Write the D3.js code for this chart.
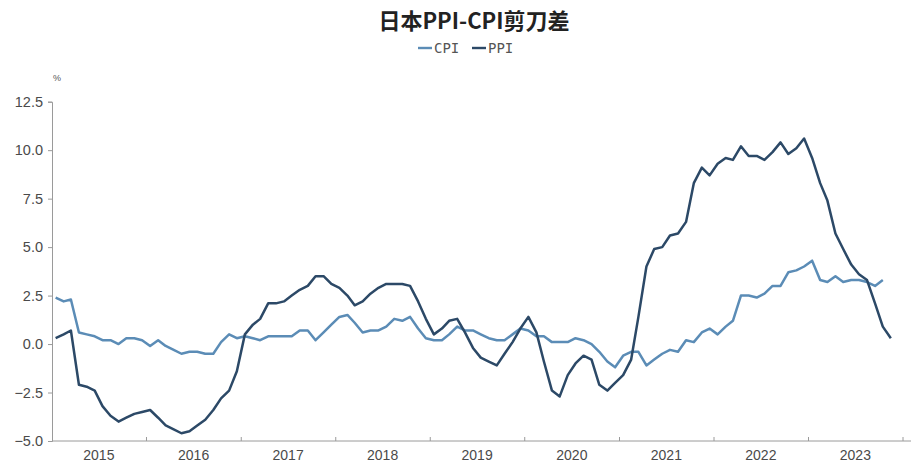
<!DOCTYPE html>
<html>
<head>
<meta charset="utf-8">
<script src="https://cdn.jsdelivr.net/npm/d3@7"></script>
<style>
  html, body { margin: 0; padding: 0; background: #fff; }
  svg { display: block; }
</style>
</head>
<body>
<svg id="chart" width="918" height="464"></svg>
<script>
// Monthly year-on-year rates (%), starting January 2015
const startYear = 2015;
const cpiValues = [
  2.4, 2.2, 2.3, 0.6, 0.5, 0.4, 0.2, 0.2, 0.0, 0.3, 0.3, 0.2,
  -0.1, 0.2, -0.1, -0.3, -0.5, -0.4, -0.4, -0.5, -0.5, 0.1, 0.5, 0.3,
  0.4, 0.3, 0.2, 0.4, 0.4, 0.4, 0.4, 0.7, 0.7, 0.2, 0.6, 1.0,
  1.4, 1.5, 1.1, 0.6, 0.7, 0.7, 0.9, 1.3, 1.2, 1.4, 0.8, 0.3,
  0.2, 0.2, 0.5, 0.9, 0.7, 0.7, 0.5, 0.3, 0.2, 0.2, 0.5, 0.8,
  0.7, 0.4, 0.4, 0.1, 0.1, 0.1, 0.3, 0.2, 0.0, -0.4, -0.9, -1.2,
  -0.6, -0.4, -0.4, -1.1, -0.8, -0.5, -0.3, -0.4, 0.2, 0.1, 0.6, 0.8,
  0.5, 0.9, 1.2, 2.5, 2.5, 2.4, 2.6, 3.0, 3.0, 3.7, 3.8, 4.0,
  4.3, 3.3, 3.2, 3.5, 3.2, 3.3, 3.3, 3.2, 3.0, 3.3
];
const ppiValues = [
  0.3, 0.5, 0.7, -2.1, -2.2, -2.4, -3.2, -3.7, -4.0, -3.8, -3.6, -3.5,
  -3.4, -3.8, -4.2, -4.4, -4.6, -4.5, -4.2, -3.9, -3.4, -2.8, -2.4, -1.4,
  0.5, 1.0, 1.3, 2.1, 2.1, 2.2, 2.5, 2.8, 3.0, 3.5, 3.5, 3.1,
  2.9, 2.5, 2.0, 2.2, 2.6, 2.9, 3.1, 3.1, 3.1, 3.0, 2.2, 1.3,
  0.5, 0.8, 1.2, 1.3, 0.6, -0.2, -0.7, -0.9, -1.1, -0.5, 0.1, 0.8,
  1.4, 0.6, -0.9, -2.4, -2.7, -1.6, -1.0, -0.6, -0.8, -2.1, -2.4, -2.0,
  -1.6, -0.8, 1.4, 4.0, 4.9, 5.0, 5.6, 5.7, 6.3, 8.3, 9.1, 8.7,
  9.3, 9.6, 9.5, 10.2, 9.7, 9.7, 9.5, 9.9, 10.4, 9.8, 10.1, 10.6,
  9.6, 8.3, 7.4, 5.7, 4.9, 4.1, 3.6, 3.3, 2.1, 0.9, 0.3
];
const yearLabels = ["2015", "2016", "2017", "2018", "2019", "2020", "2021", "2022", "2023"];
const yTicks = [-5.0, -2.5, 0.0, 2.5, 5.0, 7.5, 10.0, 12.5];
const seriesNames = ["CPI", "PPI"];
const seriesColors = ["#5b8cb6", "#2c4967"];

const monthDate = i => new Date(startYear, i, 15);
const cpi = cpiValues.map((v, i) => ({ date: monthDate(i), value: v }));
const ppi = ppiValues.map((v, i) => ({ date: monthDate(i), value: v }));

const svg = d3.select("#chart");
const plotLeft = 52, plotRight = 911, plotTop = 101.7, plotBottom = 441;

const x = d3.scaleTime()
  .domain([new Date(startYear, 0, 1), new Date(startYear + yearLabels.length, 0, 1)])
  .range([plotLeft, 903]);
const y = d3.scaleLinear().domain([-5, 12.5]).range([plotBottom, plotTop]);

const axisColor = "#9a9a9a";
const textColor = "#4a4a4a";

// Title
svg.append("text")
  .attr("x", 474).attr("y", 29)
  .attr("text-anchor", "middle")
  .attr("font-family", "'Noto Sans CJK SC', sans-serif")
  .attr("font-weight", "bold")
  .attr("font-size", 22)
  .attr("fill", "#222")
  .text("日本PPI-CPI剪刀差");

// Legend
const legend = svg.append("g").attr("transform", "translate(418,53)");
const legendOffsets = [0, 54];
seriesNames.forEach((name, i) => {
  const g = legend.append("g").attr("transform", `translate(${legendOffsets[i]},0)`);
  g.append("line")
    .attr("x1", 0).attr("x2", 14).attr("y1", -5).attr("y2", -5)
    .attr("stroke", seriesColors[i]).attr("stroke-width", 2.4);
  g.append("text")
    .attr("x", 16).attr("y", 0)
    .attr("font-family", "'DejaVu Sans Mono', monospace")
    .attr("font-size", 14)
    .attr("fill", "#555")
    .text(name);
});

// Unit label
svg.append("text")
  .attr("x", 57).attr("y", 81)
  .attr("text-anchor", "middle")
  .attr("font-family", "'Liberation Sans', sans-serif")
  .attr("font-size", 9)
  .attr("fill", "#555")
  .text("%");

// Y axis
const yAxis = d3.axisLeft(y)
  .tickValues(yTicks)
  .tickSize(4)
  .tickPadding(5)
  .tickFormat(d => d3.format(".1f")(d).replace("-", "−"));
const gy = svg.append("g").attr("transform", `translate(${plotLeft},0)`).call(yAxis);
gy.select(".domain").attr("stroke", axisColor);
gy.selectAll(".tick line").attr("stroke", axisColor);
gy.selectAll(".tick text")
  .attr("font-family", "'Liberation Sans', sans-serif")
  .attr("font-size", 14.5)
  .attr("fill", textColor);

// X axis: year boundary ticks pointing up, labels centred on each year
const yearStarts = d3.range(startYear + 1, startYear + yearLabels.length + 1).map(yr => new Date(yr, 0, 1));
const gx = svg.append("g").attr("transform", `translate(0,${plotBottom})`);
gx.append("line")
  .attr("x1", plotLeft).attr("x2", plotRight).attr("y1", 0).attr("y2", 0)
  .attr("stroke", axisColor);
gx.selectAll(".ytick").data(yearStarts).join("line")
  .attr("x1", d => x(d)).attr("x2", d => x(d))
  .attr("y1", 0).attr("y2", -4)
  .attr("stroke", axisColor);
gx.selectAll(".ylabel").data(yearLabels).join("text")
  .attr("x", (d, i) => x(new Date(startYear + i, 6, 1)))
  .attr("y", 19)
  .attr("text-anchor", "middle")
  .attr("font-family", "'Liberation Sans Narrow', 'Liberation Sans', sans-serif")
  .attr("font-size", 14)
  .attr("fill", textColor)
  .text(d => d);

// Series lines
const line = d3.line().x(d => x(d.date)).y(d => y(d.value));
[cpi, ppi].forEach((data, i) => {
  svg.append("path")
    .datum(data)
    .attr("fill", "none")
    .attr("stroke", seriesColors[i])
    .attr("stroke-width", 2.5)
    .attr("stroke-linejoin", "round")
    .attr("d", line);
});
</script>
</body>
</html>
